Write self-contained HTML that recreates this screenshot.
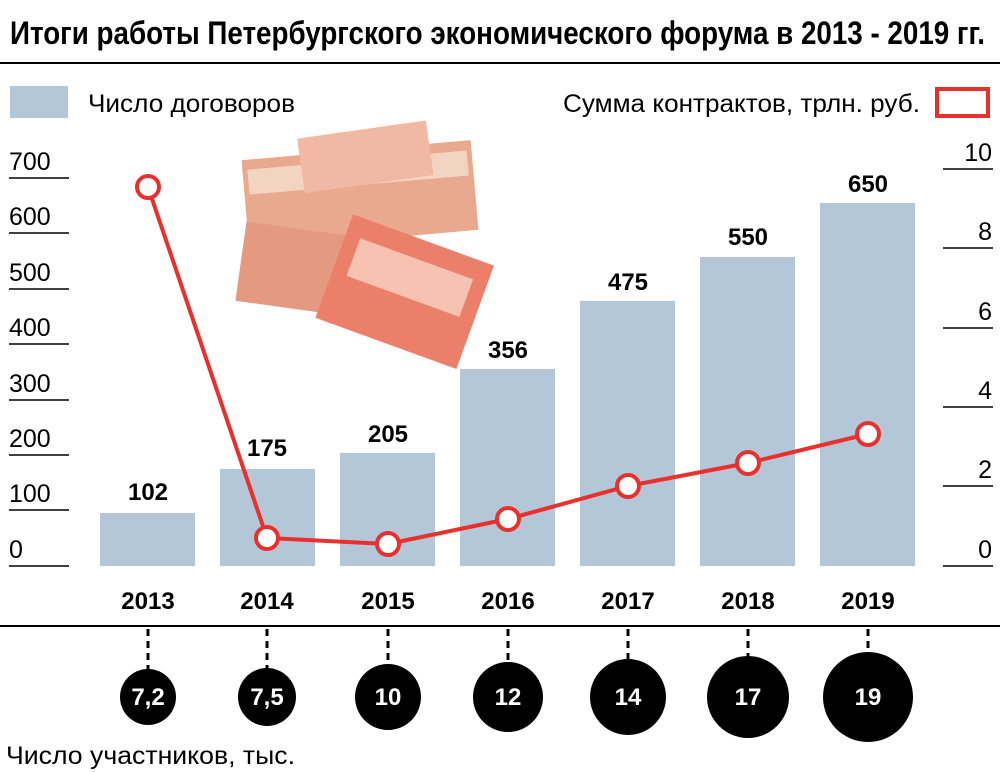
<!DOCTYPE html>
<html><head><meta charset="utf-8"><style>
body{margin:0;background:#fff;width:1000px;height:772px;overflow:hidden}
svg{display:block}
text{font-family:"Liberation Sans",Arial,sans-serif}
</style></head><body>
<svg width="1000" height="772" viewBox="0 0 1000 772">
<text x="10" y="44" font-size="32" font-weight="bold" textLength="975" lengthAdjust="spacingAndGlyphs">Итоги работы Петербургского экономического форума в 2013 - 2019 гг.</text>
<line x1="0" y1="63" x2="1000" y2="63" stroke="#000" stroke-width="2"/>
<rect x="10" y="86" width="58" height="32" fill="#b4c7d8"/>
<text x="88" y="112" font-size="25" textLength="207" lengthAdjust="spacingAndGlyphs">Число договоров</text>
<text x="563" y="112" font-size="25" textLength="357" lengthAdjust="spacingAndGlyphs">Сумма контрактов, трлн. руб.</text>
<rect x="937" y="89" width="51" height="27" fill="none" stroke="#e8312d" stroke-width="4"/>
<g stroke="#000" stroke-width="1.5">
<line x1="9" x2="69" y1="178" y2="178"/><line x1="9" x2="69" y1="233" y2="233"/><line x1="9" x2="69" y1="289" y2="289"/><line x1="9" x2="69" y1="344" y2="344"/><line x1="9" x2="69" y1="400" y2="400"/><line x1="9" x2="69" y1="455" y2="455"/><line x1="9" x2="69" y1="510" y2="510"/><line x1="9" x2="69" y1="566" y2="566"/>
<line x1="943" x2="993" y1="169" y2="169"/><line x1="943" x2="993" y1="248" y2="248"/><line x1="943" x2="993" y1="328" y2="328"/><line x1="943" x2="993" y1="407" y2="407"/><line x1="943" x2="993" y1="486" y2="486"/><line x1="943" x2="993" y1="566" y2="566"/>
</g>
<g font-size="25">
<text x="9" y="170">700</text><text x="9" y="225">600</text><text x="9" y="281">500</text><text x="9" y="336">400</text><text x="9" y="392">300</text><text x="9" y="447">200</text><text x="9" y="502">100</text><text x="9" y="558">0</text>
</g>
<g font-size="25" text-anchor="end">
<text x="992" y="161">10</text><text x="992" y="240">8</text><text x="992" y="320">6</text><text x="992" y="399">4</text><text x="992" y="478">2</text><text x="992" y="558">0</text>
</g>
<g fill="#b4c7d8">
<rect x="100" y="513" width="95" height="53"/>
<rect x="220" y="469" width="95" height="97"/>
<rect x="340" y="453" width="95" height="113"/>
<rect x="460" y="369" width="95" height="197"/>
<rect x="580" y="301" width="95" height="265"/>
<rect x="700" y="257" width="95" height="309"/>
<rect x="820" y="203" width="95" height="363"/>
</g>
<g font-size="24" font-weight="bold" text-anchor="middle">
<text x="148" y="500">102</text><text x="267" y="456">175</text><text x="388" y="442">205</text><text x="508" y="358">356</text><text x="628" y="290">475</text><text x="748" y="245">550</text><text x="868" y="192">650</text>
</g>
<g>
<rect x="245" y="150" width="230" height="90" fill="#e9a98f" transform="rotate(-5 360 195)"/>
<rect x="250" y="160" width="220" height="25" fill="#f3d4c3" transform="rotate(-5 360 195)"/>
<rect x="240" y="235" width="200" height="80" fill="#e39a80" transform="rotate(8 340 275)"/>
<rect x="330" y="235" width="150" height="110" fill="#ec7f6a" transform="rotate(20 400 290)"/>
<rect x="345" y="255" width="120" height="40" fill="#f6c2b2" transform="rotate(20 400 290)"/>
<rect x="300" y="130" width="130" height="55" fill="#f1b9a3" transform="rotate(-8 360 155)"/>
</g>
<polyline points="148,187 267,538 388,544 508,519 628,486 748,463 868,434" fill="none" stroke="#e8312d" stroke-width="4"/>
<g fill="#fff" stroke="#e8312d" stroke-width="4">
<circle cx="148" cy="187" r="11"/><circle cx="267" cy="538" r="11"/><circle cx="388" cy="544" r="11"/><circle cx="508" cy="519" r="11"/><circle cx="628" cy="486" r="11"/><circle cx="748" cy="463" r="11"/><circle cx="868" cy="434" r="11"/>
</g>
<g font-size="24" font-weight="bold" text-anchor="middle">
<text x="148" y="609">2013</text><text x="267" y="609">2014</text><text x="388" y="609">2015</text><text x="508" y="609">2016</text><text x="628" y="609">2017</text><text x="748" y="609">2018</text><text x="868" y="609">2019</text>
</g>
<line x1="0" y1="626" x2="1000" y2="626" stroke="#000" stroke-width="2"/>
<g stroke="#000" stroke-width="3" stroke-dasharray="7,5">
<line x1="148" y1="629" x2="148" y2="670"/><line x1="267" y1="629" x2="267" y2="670"/><line x1="388" y1="629" x2="388" y2="665"/><line x1="508" y1="629" x2="508" y2="662"/><line x1="628" y1="629" x2="628" y2="660"/><line x1="748" y1="629" x2="748" y2="657"/><line x1="868" y1="629" x2="868" y2="653"/>
</g>
<g fill="#000">
<circle cx="148" cy="697" r="28"/><circle cx="267" cy="697" r="29"/><circle cx="388" cy="697" r="33"/><circle cx="508" cy="697" r="35"/><circle cx="628" cy="697" r="38"/><circle cx="748" cy="697" r="41"/><circle cx="868" cy="697" r="45"/>
</g>
<g font-size="24" font-weight="bold" text-anchor="middle" fill="#fff">
<text x="148" y="705">7,2</text><text x="267" y="705">7,5</text><text x="388" y="705">10</text><text x="508" y="705">12</text><text x="628" y="705">14</text><text x="748" y="705">17</text><text x="868" y="705">19</text>
</g>
<text x="6" y="764" font-size="25" textLength="289" lengthAdjust="spacingAndGlyphs">Число участников, тыс.</text>
</svg>
</body></html>
